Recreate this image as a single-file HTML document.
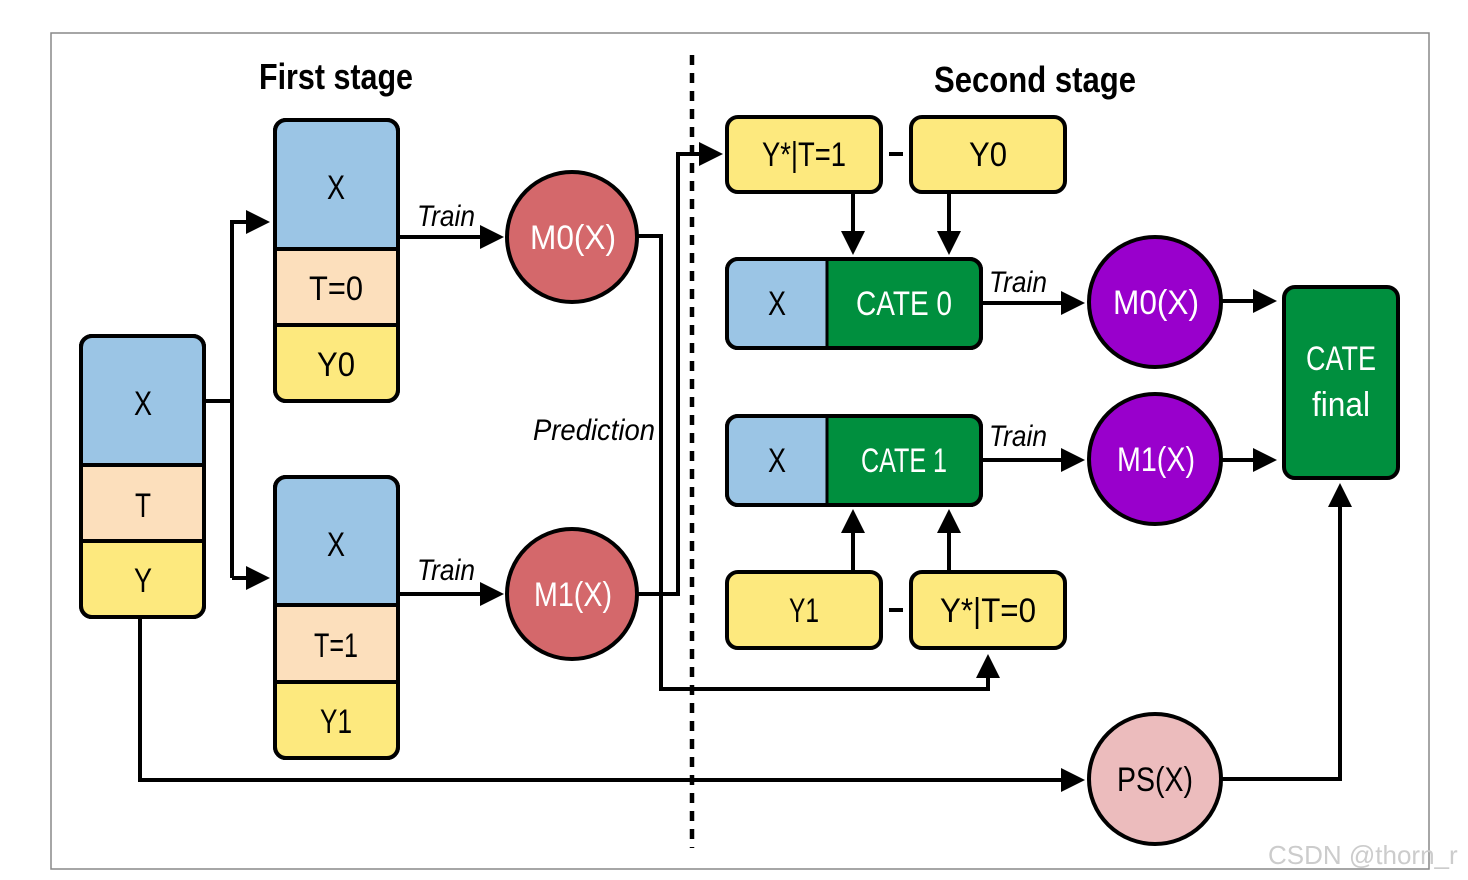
<!DOCTYPE html>
<html><head><meta charset="utf-8"><style>
html,body{margin:0;padding:0;background:#fff;}
svg{display:block;}
text{font-family:"Liberation Sans",sans-serif;}
</style></head><body>
<svg width="1468" height="880" viewBox="0 0 1468 880" xmlns="http://www.w3.org/2000/svg">
<defs>
<marker id="a" markerWidth="6" markerHeight="6" refX="5" refY="3" orient="auto" markerUnits="strokeWidth">
<path d="M0,0 L6,3 L0,6 z" fill="#000"/></marker>
</defs>
<rect x="51" y="33" width="1378" height="836" fill="none" stroke="#888" stroke-width="1.5"/>
<line x1="692" y1="55" x2="692" y2="848" stroke="#000" stroke-width="4.5" stroke-dasharray="10,8"/>
<text x="259" y="89" font-size="36" font-weight="bold" textLength="154" lengthAdjust="spacingAndGlyphs">First stage</text>
<text x="934" y="92" font-size="36" font-weight="bold" textLength="202" lengthAdjust="spacingAndGlyphs">Second stage</text>

<g stroke="#000" stroke-width="4" fill="none">
<polyline points="204,401 232,401"/>
<polyline points="232,578 232,222 266,222" marker-end="url(#a)"/>
<polyline points="232,578 266,578" marker-end="url(#a)"/>
<line x1="398" y1="237" x2="500" y2="237" marker-end="url(#a)"/>
<line x1="398" y1="594" x2="500" y2="594" marker-end="url(#a)"/>
<polyline points="638,236 661,236 661,689 988,689 988,658" marker-end="url(#a)"/>
<polyline points="638,594 678,594 678,154 719,154" marker-end="url(#a)"/>
<line x1="853" y1="192" x2="853" y2="251" marker-end="url(#a)"/>
<line x1="949" y1="192" x2="949" y2="251" marker-end="url(#a)"/>
<line x1="853" y1="572" x2="853" y2="513" marker-end="url(#a)"/>
<line x1="949" y1="572" x2="949" y2="513" marker-end="url(#a)"/>
<line x1="981" y1="303" x2="1081" y2="303" marker-end="url(#a)"/>
<line x1="981" y1="460" x2="1081" y2="460" marker-end="url(#a)"/>
<line x1="1222" y1="301" x2="1273" y2="301" marker-end="url(#a)"/>
<line x1="1222" y1="460" x2="1273" y2="460" marker-end="url(#a)"/>
<polyline points="140,617 140,780 1081,780" marker-end="url(#a)"/>
<polyline points="1222,779 1340,779 1340,487" marker-end="url(#a)"/>
<line x1="889" y1="154" x2="903" y2="154"/>
<line x1="889" y1="610" x2="903" y2="610"/>
</g>

<g stroke="#000" stroke-width="4">
<rect x="81" y="336" width="123" height="281" rx="11" fill="#fde97e"/>
<path d="M81,465 V347 a11,11 0 0 1 11,-11 H193 a11,11 0 0 1 11,11 V465 Z" fill="#9bc5e5"/>
<rect x="81" y="465" width="123" height="76" fill="#fcdfbc"/>
<rect x="81" y="336" width="123" height="281" rx="11" fill="none"/>

<rect x="275" y="120" width="123" height="281" rx="11" fill="#fde97e"/>
<path d="M275,249 V131 a11,11 0 0 1 11,-11 H387 a11,11 0 0 1 11,11 V249 Z" fill="#9bc5e5"/>
<rect x="275" y="249" width="123" height="76" fill="#fcdfbc"/>
<rect x="275" y="120" width="123" height="281" rx="11" fill="none"/>

<rect x="275" y="477" width="123" height="281" rx="11" fill="#fde97e"/>
<path d="M275,605 V488 a11,11 0 0 1 11,-11 H387 a11,11 0 0 1 11,11 V605 Z" fill="#9bc5e5"/>
<rect x="275" y="605" width="123" height="77" fill="#fcdfbc"/>
<rect x="275" y="477" width="123" height="281" rx="11" fill="none"/>

<circle cx="572" cy="237" r="65" fill="#d4686b"/>
<circle cx="572" cy="594" r="65" fill="#d4686b"/>

<rect x="727" y="117" width="154" height="75" rx="11" fill="#fde97e"/>
<rect x="911" y="117" width="154" height="75" rx="11" fill="#fde97e"/>
<rect x="727" y="572" width="154" height="76" rx="11" fill="#fde97e"/>
<rect x="911" y="572" width="154" height="76" rx="11" fill="#fde97e"/>

<rect x="727" y="259" width="254" height="89" rx="11" fill="#008f3e"/>
<path d="M827,259 H738 a11,11 0 0 0 -11,11 V337 a11,11 0 0 0 11,11 H827 Z" fill="#9bc5e5" stroke-width="3"/>
<rect x="727" y="259" width="254" height="89" rx="11" fill="none"/>
<rect x="727" y="416" width="254" height="89" rx="11" fill="#008f3e"/>
<path d="M827,416 H738 a11,11 0 0 0 -11,11 V494 a11,11 0 0 0 11,11 H827 Z" fill="#9bc5e5" stroke-width="3"/>
<rect x="727" y="416" width="254" height="89" rx="11" fill="none"/>

<ellipse cx="1155" cy="302" rx="66" ry="65" fill="#9900cc"/>
<ellipse cx="1155" cy="459" rx="66" ry="65" fill="#9900cc"/>
<ellipse cx="1155" cy="779" rx="66" ry="65" fill="#ecbcbd"/>
<rect x="1284" y="287" width="114" height="191" rx="11" fill="#008f3e"/>
</g>

<g font-size="34" text-anchor="middle" fill="#000" lengthAdjust="spacingAndGlyphs">
<text x="143" y="415" textLength="18" lengthAdjust="spacingAndGlyphs">X</text>
<text x="143" y="517" textLength="16" lengthAdjust="spacingAndGlyphs">T</text>
<text x="143" y="592" textLength="18" lengthAdjust="spacingAndGlyphs">Y</text>
<text x="336" y="199" textLength="18" lengthAdjust="spacingAndGlyphs">X</text>
<text x="336" y="300" textLength="54" lengthAdjust="spacingAndGlyphs">T=0</text>
<text x="336" y="376" textLength="38" lengthAdjust="spacingAndGlyphs">Y0</text>
<text x="336" y="556" textLength="18" lengthAdjust="spacingAndGlyphs">X</text>
<text x="336" y="657" textLength="44" lengthAdjust="spacingAndGlyphs">T=1</text>
<text x="336" y="733" textLength="32" lengthAdjust="spacingAndGlyphs">Y1</text>
<text x="804" y="166" textLength="84" lengthAdjust="spacingAndGlyphs">Y*|T=1</text>
<text x="988" y="166" textLength="38" lengthAdjust="spacingAndGlyphs">Y0</text>
<text x="804" y="622" textLength="30" lengthAdjust="spacingAndGlyphs">Y1</text>
<text x="988" y="622" textLength="96" lengthAdjust="spacingAndGlyphs">Y*|T=0</text>
<text x="777" y="315" textLength="18" lengthAdjust="spacingAndGlyphs">X</text>
<text x="777" y="472" textLength="18" lengthAdjust="spacingAndGlyphs">X</text>
<text x="1155" y="791" textLength="76" lengthAdjust="spacingAndGlyphs">PS(X)</text>
</g>
<g font-size="34" text-anchor="middle" fill="#fff">
<text x="573" y="249" textLength="86" lengthAdjust="spacingAndGlyphs">M0(X)</text>
<text x="573" y="606" textLength="78" lengthAdjust="spacingAndGlyphs">M1(X)</text>
<text x="904" y="315" textLength="96" lengthAdjust="spacingAndGlyphs">CATE 0</text>
<text x="904" y="472" textLength="86" lengthAdjust="spacingAndGlyphs">CATE 1</text>
<text x="1156" y="314" textLength="86" lengthAdjust="spacingAndGlyphs">M0(X)</text>
<text x="1156" y="471" textLength="78" lengthAdjust="spacingAndGlyphs">M1(X)</text>
<text x="1341" y="370" textLength="70" lengthAdjust="spacingAndGlyphs">CATE</text>
<text x="1341" y="416" textLength="58" lengthAdjust="spacingAndGlyphs">final</text>
</g>
<g font-size="30" font-style="italic" fill="#000">
<text x="417" y="226" textLength="58" lengthAdjust="spacingAndGlyphs">Train</text>
<text x="417" y="580" textLength="58" lengthAdjust="spacingAndGlyphs">Train</text>
<text x="989" y="292" textLength="58" lengthAdjust="spacingAndGlyphs">Train</text>
<text x="989" y="446" textLength="58" lengthAdjust="spacingAndGlyphs">Train</text>
<text x="533" y="440" textLength="122" lengthAdjust="spacingAndGlyphs">Prediction</text>
</g>
<text x="1268" y="864" font-size="26" fill="#ccc">CSDN @thorn_r</text>
</svg>
</body></html>
